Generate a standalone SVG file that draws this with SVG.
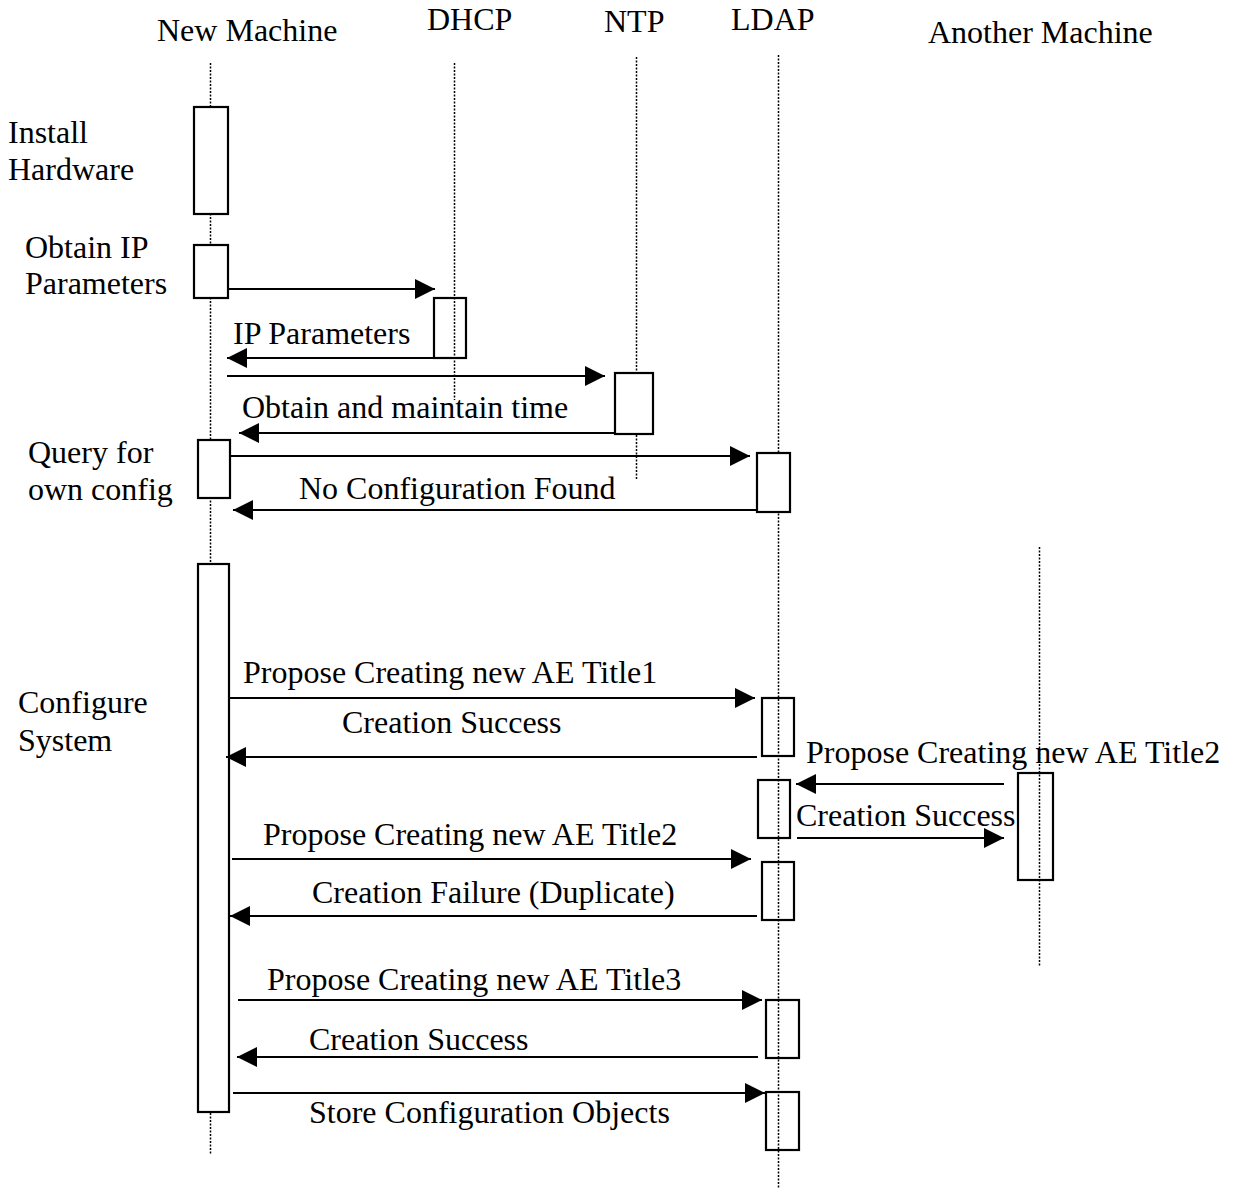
<svg xmlns="http://www.w3.org/2000/svg" width="1233" height="1189" viewBox="0 0 1233 1189">
<style>
text{font-family:"Liberation Serif","Times New Roman",serif;font-size:32px;fill:#000}
.life{stroke:#000;stroke-width:1.5;stroke-dasharray:2 1.5;fill:none}
.act{fill:#fff;stroke:#000;stroke-width:2.2}
.actn{fill:none;stroke:#000;stroke-width:2.2}
.msg{stroke:#000;stroke-width:2.2;fill:none;marker-end:url(#ah)}
</style>
<defs>
<marker id="ah" markerUnits="userSpaceOnUse" markerWidth="20" markerHeight="20" refX="20" refY="10" orient="auto" viewBox="0 0 20 20">
<path d="M0,0 L20,10 L0,20 z" fill="#000"/>
</marker>
</defs>
<rect width="1233" height="1189" fill="#fff"/>
<g id="lifelines">
<line class="life" x1="210.5" y1="63" x2="210.5" y2="1154"/>
<line class="life" x1="454.5" y1="63" x2="454.5" y2="400"/>
<line class="life" x1="636.5" y1="57" x2="636.5" y2="480"/>
<line class="life" x1="778.5" y1="55" x2="778.5" y2="1188"/>
<line class="life" x1="1039.5" y1="547" x2="1039.5" y2="967"/>
</g>
<g id="new-machine">
<text x="157" y="41">New Machine</text>
<rect class="act" x="194" y="107" width="34" height="107"/>
<rect class="act" x="194" y="245" width="34" height="53"/>
<rect class="act" x="198" y="440" width="32" height="58"/>
<rect class="act" x="198" y="564" width="31" height="548"/>
</g>
<g id="dhcp">
<text x="427" y="30">DHCP</text>
<rect class="actn" x="434" y="298" width="32" height="60"/>
</g>
<g id="ntp">
<text x="604" y="32">NTP</text>
<rect class="act" x="615" y="373" width="38" height="61"/>
</g>
<g id="ldap">
<text x="731" y="30">LDAP</text>
<rect class="act" x="757" y="453" width="33" height="59"/>
<rect class="actn" x="762" y="698" width="32" height="58"/>
<rect class="actn" x="758" y="780" width="32" height="58"/>
<rect class="actn" x="762" y="862" width="32" height="58"/>
<rect class="actn" x="766" y="1000" width="33" height="58"/>
<rect class="actn" x="766" y="1092" width="33" height="58"/>
</g>
<g id="another-machine">
<text x="928" y="43">Another Machine</text>
<rect class="actn" x="1018" y="773" width="35" height="107"/>
</g>
<g id="step-labels">
<text x="8" y="143">Install</text>
<text x="8" y="180">Hardware</text>
<text x="25" y="258">Obtain IP</text>
<text x="25" y="294">Parameters</text>
<text x="28" y="463">Query for</text>
<text x="28" y="500">own config</text>
<text x="18" y="713">Configure</text>
<text x="18" y="751">System</text>
</g>
<g id="connectors">
<line class="msg" x1="228" y1="289" x2="435" y2="289"/>
<line class="msg" x1="434" y1="358" x2="227" y2="358"/>
<line class="msg" x1="227" y1="376" x2="605" y2="376"/>
<line class="msg" x1="615" y1="433" x2="239" y2="433"/>
<line class="msg" x1="230" y1="456" x2="750" y2="456"/>
<line class="msg" x1="757" y1="510" x2="233" y2="510"/>
<line class="msg" x1="229" y1="698" x2="755" y2="698"/>
<line class="msg" x1="757" y1="757" x2="226" y2="757"/>
<line class="msg" x1="1004" y1="784" x2="796" y2="784"/>
<line class="msg" x1="797" y1="838" x2="1004" y2="838"/>
<line class="msg" x1="232" y1="859" x2="751" y2="859"/>
<line class="msg" x1="757" y1="916" x2="230" y2="916"/>
<line class="msg" x1="238" y1="1000" x2="762" y2="1000"/>
<line class="msg" x1="758" y1="1057" x2="237" y2="1057"/>
<line class="msg" x1="233" y1="1093" x2="765" y2="1093"/>
</g>
<g id="message-labels">
<text x="233" y="344">IP Parameters</text>
<text x="242" y="418">Obtain and maintain time</text>
<text x="299" y="499">No Configuration Found</text>
<text x="243" y="683">Propose Creating new AE Title1</text>
<text x="342" y="733">Creation Success</text>
<text x="806" y="763">Propose Creating new AE Title2</text>
<text x="796" y="826">Creation Success</text>
<text x="263" y="845">Propose Creating new AE Title2</text>
<text x="312" y="903">Creation Failure (Duplicate)</text>
<text x="267" y="990">Propose Creating new AE Title3</text>
<text x="309" y="1050">Creation Success</text>
<text x="309" y="1123">Store Configuration Objects</text>
</g>
</svg>
